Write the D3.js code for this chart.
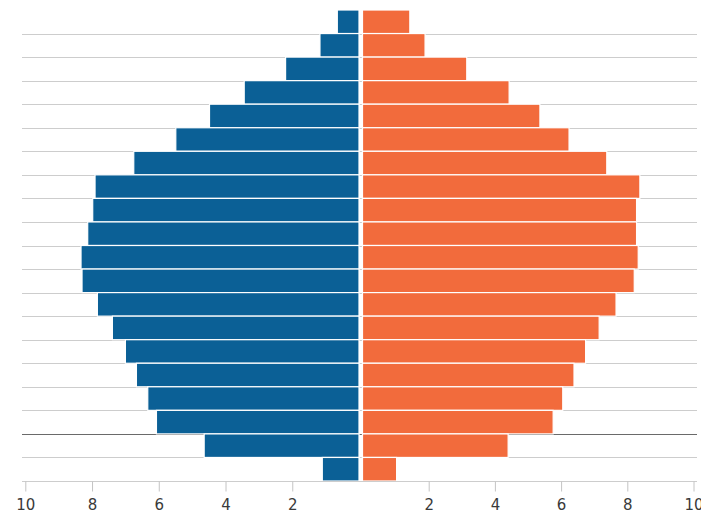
<!DOCTYPE html>
<html>
<head>
<meta charset="utf-8">
<script src="https://cdn.jsdelivr.net/npm/d3@7"></script>
<style>
  html, body { margin: 0; padding: 0; background: #fff; }
  svg { display: block; }
</style>
</head>
<body>
<svg id="chart" width="701" height="515"></svg>
<script>
// Age groups, top row (oldest) to bottom row
const ageGroups = ["95+","90-94","85-89","80-84","75-79","70-74","65-69","60-64","55-59","50-54",
                   "45-49","40-44","35-39","30-34","25-29","20-24","15-19","10-14","5-9","0-4"];
// Left (blue) series, % of population
const maleValues = [0.65,1.17,2.2,3.44,4.48,5.49,6.75,7.91,7.98,8.13,8.33,8.30,7.84,7.39,7.0,6.67,6.33,6.07,4.64,1.10];
// Right (orange) series, % of population
const femaleValues = [1.43,1.89,3.15,4.43,5.36,6.24,7.38,8.38,8.28,8.28,8.33,8.21,7.66,7.15,6.74,6.39,6.05,5.76,4.40,1.03];
const leftTicks = [10, 8, 6, 4, 2];
const rightTicks = [2, 4, 6, 8, 10];
// index of the row boundary drawn darker (between rows)
const darkBoundaryAfter = "10-14";

const svg = d3.select("#chart");
const xL = d3.scaleLinear().domain([0, 10]).range([359, 25.3]);
const xR = d3.scaleLinear().domain([0, 10]).range([362.5, 693.5]);
const y = d3.scaleBand().domain(ageGroups).range([10, 481]).paddingInner(0).paddingOuter(0);

const gridLeft = 22, gridRight = 697;

// gridlines at row boundaries (not at the top)
const boundaries = ageGroups.slice(0, ageGroups.length - 1);
svg.append("g").selectAll("line").data(boundaries).join("line")
  .attr("x1", gridLeft).attr("x2", gridRight)
  .attr("y1", d => Math.round(y(d) + y.bandwidth()) + 0.5)
  .attr("y2", d => Math.round(y(d) + y.bandwidth()) + 0.5)
  .attr("stroke", d => d === darkBoundaryAfter ? "#6a6a6a" : "#cdcdcd")
  .attr("stroke-width", 1);

// bars
const rows = ageGroups.map((a, i) => ({ age: a, m: maleValues[i], f: femaleValues[i] }));
svg.append("g").selectAll("rect").data(rows).join("rect")
  .attr("x", d => xL(d.m))
  .attr("width", d => xL(0) - xL(d.m))
  .attr("y", d => y(d.age))
  .attr("height", y.bandwidth())
  .attr("fill", "#0b6096")
  .attr("stroke", "#fff").attr("stroke-width", 1.2);

svg.append("g").selectAll("rect").data(rows).join("rect")
  .attr("x", xR(0))
  .attr("width", d => xR(d.f) - xR(0))
  .attr("y", d => y(d.age))
  .attr("height", y.bandwidth())
  .attr("fill", "#f26b3c")
  .attr("stroke", "#fff").attr("stroke-width", 1.2);

// axis baseline
const axisY = 481.5;
svg.append("line")
  .attr("x1", gridLeft).attr("x2", gridRight)
  .attr("y1", axisY).attr("y2", axisY)
  .attr("stroke", "#cdcdcd");

function styleAxis(g) {
  g.select(".domain").remove();
  g.selectAll(".tick line").attr("stroke", "#c4c4c4");
  g.selectAll(".tick text")
    .attr("fill", "#3a3a3a")
    .style("font-family", "'DejaVu Sans', Verdana, sans-serif")
    .style("font-size", "15px");
}

svg.append("g").attr("transform", `translate(0,${axisY})`)
  .call(d3.axisBottom(xL).tickValues(leftTicks).tickSize(10).tickPadding(8).tickFormat(d3.format("d")))
  .call(styleAxis);
svg.append("g").attr("transform", `translate(0,${axisY})`)
  .call(d3.axisBottom(xR).tickValues(rightTicks).tickSize(10).tickPadding(8).tickFormat(d3.format("d")))
  .call(styleAxis);
</script>
</body>
</html>
